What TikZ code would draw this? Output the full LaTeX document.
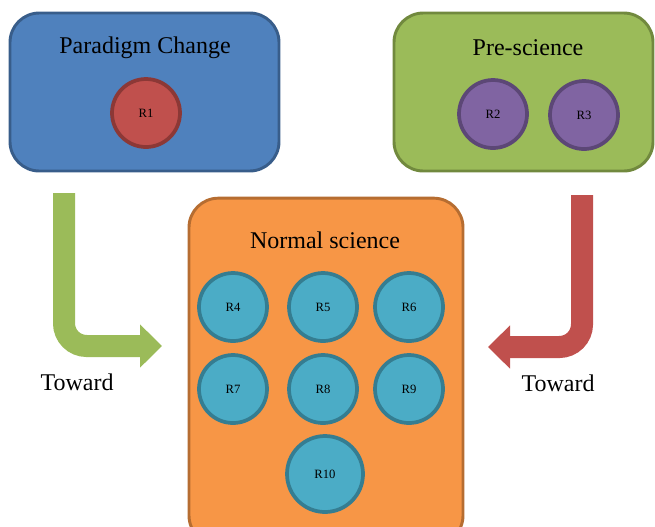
\documentclass[tikz,border=0pt]{standalone}
\usepackage{fontspec}
\setmainfont{Liberation Serif}
\usepackage{xcolor}
\usepackage{tikz}
\usetikzlibrary{arrows.meta,positioning}

\definecolor{pcfill}{HTML}{4F81BD}
\definecolor{pcline}{HTML}{385D8A}
\definecolor{psfill}{HTML}{9BBB59}
\definecolor{psline}{HTML}{71893E}
\definecolor{nsfill}{HTML}{F79646}
\definecolor{nsline}{HTML}{B66D31}
\definecolor{rfill}{HTML}{C0504D}
\definecolor{rline}{HTML}{8C3836}
\definecolor{vfill}{HTML}{8064A2}
\definecolor{vline}{HTML}{5C4776}
\definecolor{cfill}{HTML}{4BACC6}
\definecolor{cline}{HTML}{357D91}

\begin{document}
\begin{tikzpicture}[
    x=0.75pt, y=-0.75pt,
    stage/.style={draw, line width=2.2pt, rounded corners=22pt},
    title/.style={font=\fontsize{18}{20}\selectfont},
    res/.style={circle, draw, line width=2.8pt, minimum size=51pt, inner sep=0pt, font=\fontsize{9.5}{10}\selectfont},
    bigres/.style={res, minimum size=57pt},
    bentarrow/.style={line width=16.5pt, rounded corners=17pt, -{Triangle[length=16.5pt,width=31.5pt]}},
    toward/.style={font=\fontsize{18}{20}\selectfont},
]
    \clip (0,0) rectangle (655,526);

    % the three stages
    \node[stage, fill=pcfill, draw=pcline, minimum width=201.75pt, minimum height=118.5pt] (pc) at (144.5,92) {};
    \node[stage, fill=psfill, draw=psline, minimum width=194.25pt, minimum height=118.5pt] (ps) at (523.5,92) {};
    \node[stage, fill=nsfill, draw=nsline, minimum width=205.5pt, minimum height=260pt] (ns) at (326,371.5) {};

    \node[title] (pct) at (145,48) {Paradigm Change};
    \node[title] (pst) at (528,48) {Pre-science};
    \node[title] (nst) at (325,240) {Normal science};

    % research items
    \node[res, fill=rfill, draw=rline] (r1) at (146,113) {R1};
    \node[res, fill=vfill, draw=vline] (r2) at (493,114) {R2};
    \node[res, fill=vfill, draw=vline] (r3) at (584,115) {R3};

    \node[res, fill=cfill, draw=cline] (r4) at (233,307) {R4};
    \node[res, fill=cfill, draw=cline] (r5) at (323,307) {R5};
    \node[res, fill=cfill, draw=cline] (r6) at (409,307) {R6};
    \node[res, fill=cfill, draw=cline] (r7) at (233,389) {R7};
    \node[res, fill=cfill, draw=cline] (r8) at (323,389) {R8};
    \node[res, fill=cfill, draw=cline] (r9) at (409,389) {R9};
    \node[bigres, fill=cfill, draw=cline] (r10) at (325,474) {R10};

    % bent arrows
    \coordinate (gstart) at (64,193);
    \coordinate (gend) at (162,346);
    \coordinate (rstart) at (582,195);
    \coordinate (rend) at (488,347);

    \draw[bentarrow, draw=psfill] (gstart) |- (gend);
    \draw[bentarrow, draw=rfill] (rstart) |- (rend);

    \node[toward] (tl) at (77,382) {Toward};
    \node[toward] (tr) at (558,383) {Toward};
\end{tikzpicture}
\end{document}
